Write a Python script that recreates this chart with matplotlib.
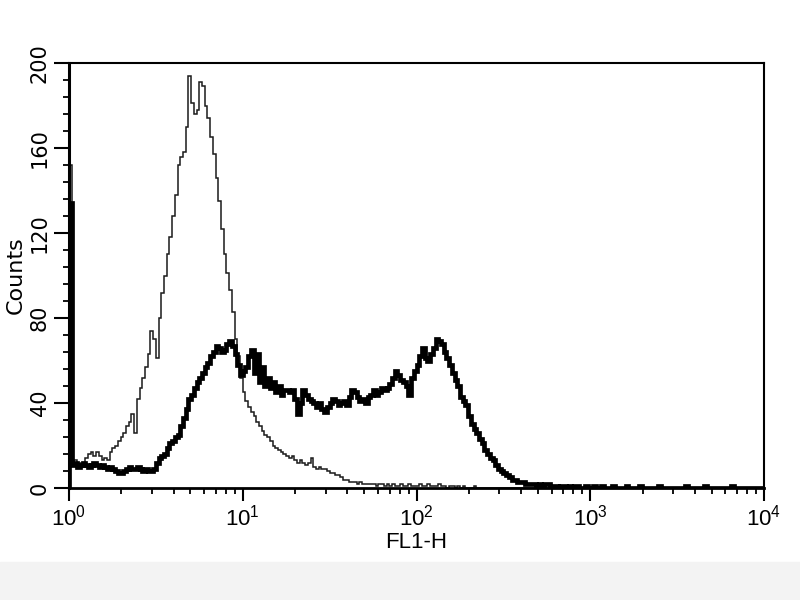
import numpy as np
import matplotlib
matplotlib.use('Agg')
import matplotlib.pyplot as plt
from matplotlib.ticker import FixedLocator, MultipleLocator, LogLocator, NullFormatter
from matplotlib.patches import Rectangle

# FL1-H histogram, 256 channels over 4 decades (64 per decade)
decade_ticks = [1, 10, 100, 1000, 10000]
decade_labels = ['$\\mathregular{10^{%d}}$' % k for k in range(5)]
count_ticks = [0, 40, 80, 120, 160, 200]

# thin line (control)
control_counts = [
    152, 12, 13, 11, 12, 11, 14, 16, 17, 15, 17, 15, 13, 14, 13, 17,
    19, 20, 22, 24, 26, 29, 31, 35, 26, 42, 47, 52, 57, 63, 74, 70,
    61, 80, 92, 100, 110, 118, 128, 138, 152, 156, 158, 170, 194, 181, 176, 178,
    191, 189, 180, 174, 165, 157, 146, 135, 122, 110, 101, 93, 83, 70, 62, 52,
    45, 41, 38, 36, 34, 31, 29, 27, 25, 24, 22, 20, 19, 18, 17, 16,
    15, 14, 15, 13, 12, 13, 12, 11, 12, 14, 10, 9, 10, 9, 9, 8,
    7, 7, 6, 6, 5, 4, 4, 3, 3, 3, 2, 3, 2, 2, 2, 2,
    2, 1, 2, 2, 1, 2, 1, 2, 1, 1, 2, 1, 1, 2, 1, 1,
    1, 2, 1, 1, 2, 1, 1, 1, 2, 1, 1, 0, 1, 1, 0, 1,
    0, 1, 0, 0, 0, 1, 0, 0, 0, 0, 0, 0, 0, 0, 0, 0,
    0, 0, 0, 0, 0, 0, 0, 0, 0, 0, 0, 0, 0, 0, 0, 0,
    0, 0, 0, 0, 0, 0, 0, 0, 0, 0, 0, 0, 0, 0, 0, 0,
    0, 0, 0, 0, 0, 0, 0, 0, 0, 0, 0, 0, 0, 0, 0, 0,
    0, 0, 0, 0, 0, 0, 0, 0, 0, 0, 0, 0, 0, 0, 0, 0,
    0, 0, 0, 0, 0, 0, 0, 0, 0, 0, 0, 0, 0, 0, 0, 0,
    0, 0, 0, 0, 0, 0, 0, 0, 0, 0, 0, 0, 0, 0, 0, 0,
]

# thick line (stained sample)
sample_counts = [
    134, 11, 12, 10, 11, 12, 11, 10, 11, 12, 11, 10, 11, 10, 9, 10,
    9, 8, 7, 7, 8, 9, 10, 9, 9, 10, 9, 8, 9, 8, 8, 9,
    12, 14, 15, 16, 19, 21, 22, 24, 25, 29, 33, 37, 42, 44, 47, 50,
    52, 54, 57, 59, 62, 64, 67, 66, 64, 65, 68, 69, 67, 63, 58, 53,
    55, 57, 62, 65, 54, 63, 50, 57, 48, 52, 47, 50, 45, 48, 44, 46,
    46, 45, 46, 42, 35, 40, 46, 44, 42, 41, 40, 38, 40, 37, 36, 38,
    40, 42, 41, 39, 40, 41, 39, 43, 46, 45, 43, 41, 42, 40, 43, 44,
    46, 44, 45, 47, 46, 47, 49, 52, 55, 53, 51, 50, 48, 44, 52, 55,
    58, 62, 66, 61, 60, 63, 66, 70, 69, 68, 64, 61, 58, 54, 51, 48,
    43, 41, 39, 34, 30, 28, 26, 23, 21, 18, 16, 14, 13, 11, 9, 8,
    7, 6, 5, 4, 4, 3, 3, 3, 2, 2, 2, 2, 1, 2, 1, 2,
    2, 1, 1, 1, 0, 1, 1, 0, 1, 0, 1, 1, 0, 0, 1, 0,
    0, 1, 0, 0, 1, 0, 0, 0, 1, 0, 0, 0, 0, 1, 0, 0,
    0, 0, 1, 0, 0, 0, 0, 0, 0, 1, 0, 0, 0, 0, 0, 0,
    0, 0, 0, 1, 0, 0, 0, 0, 0, 0, 1, 0, 0, 0, 0, 0,
    0, 0, 0, 0, 1, 0, 0, 0, 0, 0, 0, 0, 0, 0, 0, 0,
]

sans = ['Liberation Sans', 'DejaVu Sans']

fig = plt.figure(figsize=(8, 6), dpi=100)
fig.patches.append(Rectangle((0, 0), 1, 38 / 600, transform=fig.transFigure,
                             color='#f3f3f3', zorder=-1))
ax = fig.add_axes([69 / 800, 1 - 488 / 600, 695 / 800, 425 / 600])

edges = np.logspace(0, 4, len(control_counts) + 1)
ax.stairs(control_counts, edges, color='#1a1a1a', linewidth=1.1)
ax.stairs(sample_counts, edges, color='black', linewidth=3.4)

ax.set_xscale('log')
ax.set_xlim(1, 10000)
ax.set_ylim(0, 200)

ax.xaxis.set_major_locator(FixedLocator(decade_ticks))
ax.xaxis.set_minor_locator(LogLocator(base=10, subs=np.arange(2, 10)))
ax.xaxis.set_minor_formatter(NullFormatter())
ax.set_xticklabels(decade_labels, fontsize=16, family=sans)

ax.yaxis.set_major_locator(FixedLocator(count_ticks))
ax.yaxis.set_minor_locator(MultipleLocator(8))
ax.set_yticklabels([str(v) for v in count_ticks], rotation=90, va='center',
                   fontsize=15, family='DejaVu Sans')

ax.tick_params(which='major', direction='out', length=9, width=1.5, pad=3)
ax.tick_params(axis='y', which='major', length=11, pad=3)
ax.tick_params(which='minor', direction='out', length=4.5, width=1.3)

for s in ax.spines.values():
    s.set_linewidth(1.5)
ax.spines['left'].set_linewidth(2.2)
ax.spines['bottom'].set_linewidth(2.0)

ax.set_xlabel('FL1-H', fontsize=16, family=sans, labelpad=1)
ax.set_ylabel('Counts', fontsize=16, family='DejaVu Sans', labelpad=3)

fig.savefig('out.png', dpi=100)
